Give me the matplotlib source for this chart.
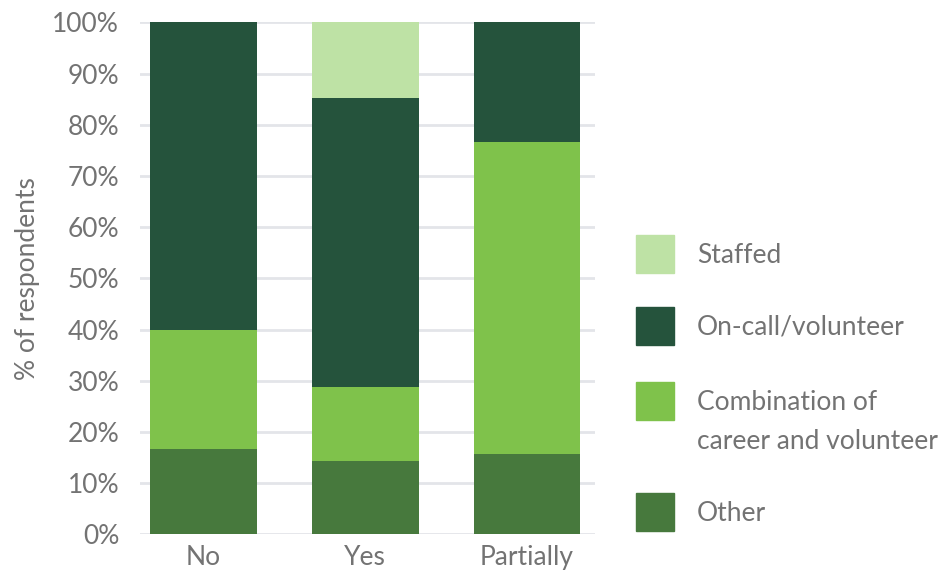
import numpy as np
import matplotlib.pyplot as plt
from matplotlib.patches import Rectangle

plt.rcParams['font.family'] = ['Lato', 'DejaVu Sans']

kategoriler = ["No", "Yes", "Partially"]
seriler = ["Other", "Combination of\ncareer and volunteer", "On-call/volunteer", "Staffed"]
diger = [16.7, 14.3, 15.6]
kombinasyon = [23.3, 14.5, 61.0]
nobetci = [60.0, 56.4, 23.4]
kadrolu = [0.0, 14.8, 0.0]
renkler = ["#47793D", "#7FC24B", "#25533C", "#BEE2A5"]

gri = "#737373"

fig = plt.figure(figsize=(9.48, 5.73), dpi=100)
ax = fig.add_axes([0.1477, 0.0675, 0.48, 0.8935])

x = np.arange(len(kategoriler))
alt = np.zeros(len(kategoriler))
for degerler, renk in zip([diger, kombinasyon, nobetci, kadrolu], renkler):
    ax.bar(x, degerler, width=0.66, bottom=alt, color=renk, zorder=3)
    alt += np.array(degerler)

ax.set_xlim(-0.39, 2.42)
ax.set_ylim(0, 100)
ax.set_yticks(np.arange(0, 101, 10))
ax.set_yticklabels([f"{v}%" for v in range(0, 101, 10)])
ax.set_xticks(x)
ax.set_xticklabels(kategoriler)
ax.grid(axis='y', color="#E3E5E9", linewidth=2, zorder=0)
for s in ax.spines.values():
    s.set_visible(False)
ax.tick_params(length=0, labelsize=19, labelcolor=gri)
ax.tick_params(axis='y', pad=15)
ax.tick_params(axis='x', pad=8)
ax.set_ylabel("% of respondents", fontsize=19, color=gri, labelpad=9)

# legend drawn by hand so the patch lines up with the first text line
lej_y = [254, 326, 401, 512]
for ad, renk, yp in zip(seriler[::-1], renkler[::-1], lej_y):
    fy = 1 - yp / 573
    fig.patches.append(Rectangle((636 / 948, fy - 19 / 573), 38 / 948, 38 / 573,
                                 transform=fig.transFigure, color=renk))
    fig.text(697 / 948, fy + 11 / 573, ad, fontsize=19, color=gri, va='top',
             linespacing=1.7)

fig.savefig("out.png", dpi=100)
